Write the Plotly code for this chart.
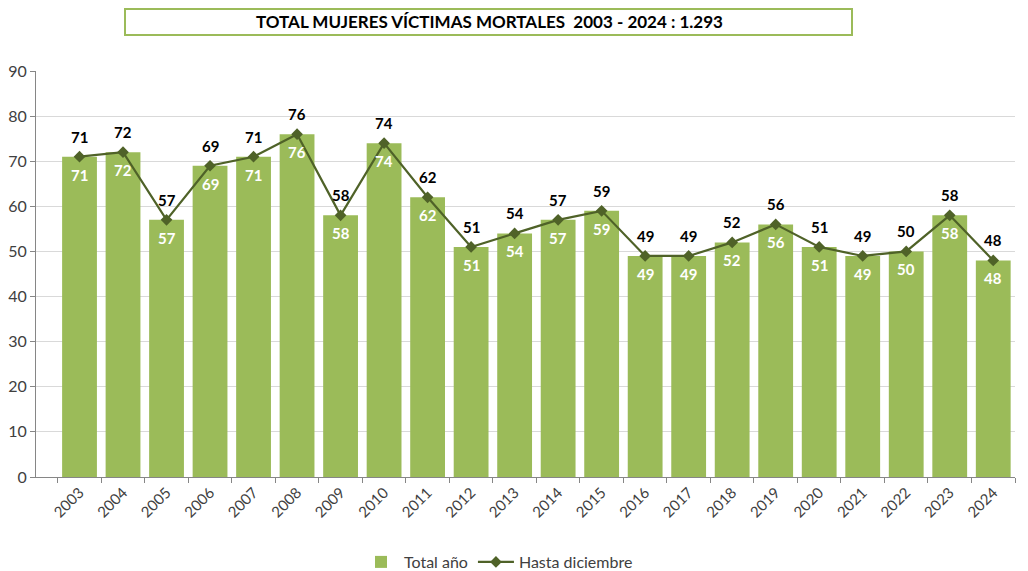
import plotly.graph_objects as go

years = [str(y) for y in range(2003, 2025)]
total_anio = [71, 72, 57, 69, 71, 76, 58, 74, 62, 51, 54, 57, 59, 49, 49, 52, 56, 51, 49, 50, 58, 48]
hasta_diciembre = [71, 72, 57, 69, 71, 76, 58, 74, 62, 51, 54, 57, 59, 49, 49, 52, 56, 51, 49, 50, 58, 48]
title_text = "TOTAL MUJERES VÍCTIMAS MORTALES  2003 - 2024 : 1.293"

FONT = "Lato, 'Open Sans', sans-serif"
GREEN = "#9BBB59"
DARK = "#4F6228"

xs = list(range(len(years)))

fig = go.Figure()
fig.add_trace(go.Bar(
    x=xs, y=total_anio, name="Total año",
    marker=dict(color=GREEN, line=dict(width=0)),
))
fig.add_trace(go.Scatter(
    x=xs, y=hasta_diciembre, name="Hasta diciembre",
    mode="lines+markers",
    line=dict(color=DARK, width=2.2),
    marker=dict(symbol="diamond", size=9, color=DARK),
))

annotations = []
for i, v in enumerate(total_anio):
    annotations.append(dict(x=i, y=v, text=str(v), showarrow=False, yshift=-18,
                            font=dict(family=FONT, size=15, color="white", weight="bold")))
for i, v in enumerate(hasta_diciembre):
    annotations.append(dict(x=i, y=v, text=str(v), showarrow=False, yshift=20,
                            font=dict(family=FONT, size=15, color="black", weight="bold")))
annotations.append(dict(xref="paper", yref="paper", x=(489 - 36) / 979,
                        y=1 + (71 - 21) / 406, xanchor="center", yanchor="middle",
                        text=title_text, showarrow=False,
                        font=dict(family=FONT, size=17, color="black", weight="bold")))

# page body has an 8px margin, so the figure is 8px smaller and offset
fig.update_layout(
    width=1020, height=563,
    margin=dict(l=28, r=13, t=63, b=94, autoexpand=False),
    paper_bgcolor="white", plot_bgcolor="white",
    bargap=0.2,
    showlegend=True,
    legend=dict(orientation="h", x=(498 - 36) / 979, xanchor="center",
                y=-(562 - 477) / 406, yanchor="middle",
                itemwidth=36, tracegroupgap=10,
                font=dict(family=FONT, size=16, color="#404040")),
    annotations=annotations,
    shapes=[dict(type="rect", xref="paper", yref="paper", layer="above",
                 x0=(125 - 36) / 979, x1=(852 - 36) / 979,
                 y0=1 + (71 - 35) / 406, y1=1 + (71 - 9) / 406,
                 line=dict(color=GREEN, width=2), fillcolor="rgba(0,0,0,0)")],
    font=dict(family=FONT, color="#404040"),
)
fig.update_xaxes(
    range=[-1, 21.5], automargin=False,
    tickmode="array", tickvals=xs, ticktext=years, tickangle=-45,
    tickfont=dict(family=FONT, size=15, color="#404040"),
    showgrid=False, showline=True, linecolor="#868686", linewidth=1,
    ticks="", zeroline=False,
    minor=dict(tickmode="array", tickvals=[i - 0.5 for i in range(len(years) + 1)],
               ticks="outside", ticklen=5, tickcolor="#868686", showgrid=False),
)
fig.update_yaxes(
    range=[0, 90], dtick=10, automargin=False,
    tickfont=dict(family=FONT, size=16, color="#404040"),
    showgrid=True, gridcolor="#D9D9D9", gridwidth=1,
    showline=True, linecolor="#868686", linewidth=1,
    ticks="outside", ticklen=5, tickcolor="#868686",
    zeroline=False,
)

fig.write_html("out.html")
